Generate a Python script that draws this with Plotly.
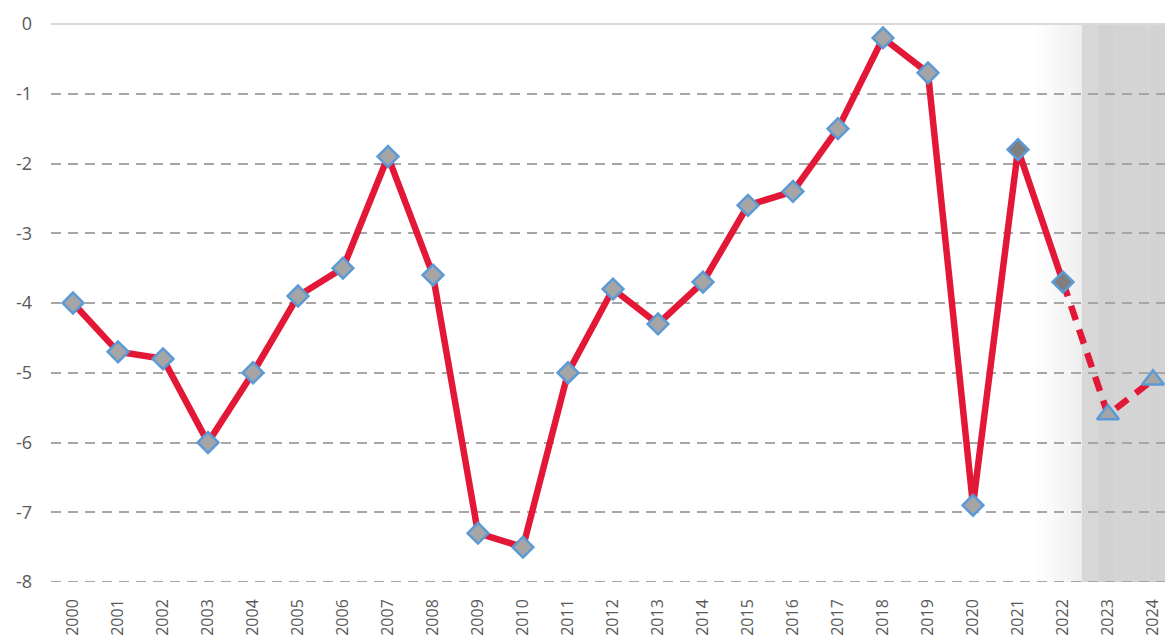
import plotly.graph_objects as go

years = [str(y) for y in range(2000, 2025)]
values = [-4.0, -4.7, -4.8, -6.0, -5.0, -3.9, -3.5, -1.9, -3.6, -7.3, -7.5, -5.0,
          -3.8, -4.3, -3.7, -2.6, -2.4, -1.5, -0.2, -0.7, -6.9, -1.8, -3.7, -5.6, -5.1]
actual_last = "2022"          # last observed year; later years are forecasts
highlight_years = ["2021", "2022"]
y_ticks = [0, -1, -2, -3, -4, -5, -6, -7, -8]

RED = "#e31837"
BLUE = "#5b9bd5"
GREY = "#595959"
GRID = "#a6a6a6"

n_act = years.index(actual_last) + 1
fig = go.Figure()

# solid actual line
fig.add_trace(go.Scatter(x=years[:n_act], y=values[:n_act], mode="lines",
                         line=dict(color=RED, width=6.5), hoverinfo="skip", showlegend=False))
# dashed forecast line
fig.add_trace(go.Scatter(x=years[n_act - 1:], y=values[n_act - 1:], mode="lines",
                         line=dict(color=RED, width=6.5, dash="15px,10px"),
                         hoverinfo="skip", showlegend=False))

# markers
fill = ["#7f7f7f" if y in highlight_years else "#a5a5a5" for y in years]
fig.add_trace(go.Scatter(x=years[:n_act], y=values[:n_act], mode="markers",
                         marker=dict(symbol="diamond", size=16, color=fill[:n_act],
                                     line=dict(color=BLUE, width=2.5)),
                         showlegend=False))
fig.add_trace(go.Scatter(x=years[n_act:], y=values[n_act:], mode="markers",
                         marker=dict(symbol="triangle-up", size=19, color="#a5a5a5",
                                     line=dict(color=BLUE, width=2.5)),
                         showlegend=False))

# shaded forecast background (gradient approximated by strips)
shapes = []
g0, g1 = 21.38, 22.42
steps = 16
for i in range(steps):
    a = g0 + (g1 - g0) * i / steps
    b = g0 + (g1 - g0) * (i + 1) / steps
    op = 0.46 * (i + 0.5) / steps
    shapes.append(dict(type="rect", xref="x", yref="paper", x0=a, x1=b + 0.002, y0=0, y1=1,
                       fillcolor=f"rgba(220,220,220,{op:.3f})", line=dict(width=0), layer="between"))
dark_bands = [(22.42, 22.8, 0.80), (22.8, 23.15, 0.9), (23.15, 23.9, 0.86), (23.9, 24.4, 0.88)]
for a, b, op in dark_bands:
    shapes.append(dict(type="rect", xref="x", yref="paper", x0=a, x1=b + 0.002, y0=0, y1=1,
                       fillcolor=f"rgba(205,205,205,{op})", line=dict(width=0), layer="between"))
# bottom dashed gridline (at axis edge)
shapes.append(dict(type="line", xref="paper", yref="y", x0=0, x1=1, y0=y_ticks[-1], y1=y_ticks[-1],
                   line=dict(color=GRID, width=2, dash="10px,7px"), layer="between"))

fig.update_layout(
    width=1165, height=640,
    margin=dict(l=51, r=0, t=24, b=58),
    paper_bgcolor="white", plot_bgcolor="white",
    font=dict(family="Open Sans, Lato, sans-serif", color=GREY, size=18),
    shapes=shapes,
    xaxis=dict(type="category", range=[-0.489, 24.267], tickangle=-90,
               showgrid=False, zeroline=False, showline=False, ticks="",
               tickfont=dict(size=16, color=GREY), ticklabelstandoff=13, automargin=False),
    yaxis=dict(range=[-8, 0], tickvals=y_ticks, ticktext=[str(v) for v in y_ticks],
               showgrid=True, gridcolor=GRID, gridwidth=2, griddash="10px,7px",
               zeroline=True, zerolinecolor="#d9d9d9", zerolinewidth=2,
               showline=False, ticks="", ticklabelstandoff=18, automargin=False,
               tickfont=dict(size=18, color=GREY)),
)

fig.write_html("out.html", config={"displayModeBar": False},
               post_script="document.body.style.margin='0';document.body.style.overflow='hidden';")
